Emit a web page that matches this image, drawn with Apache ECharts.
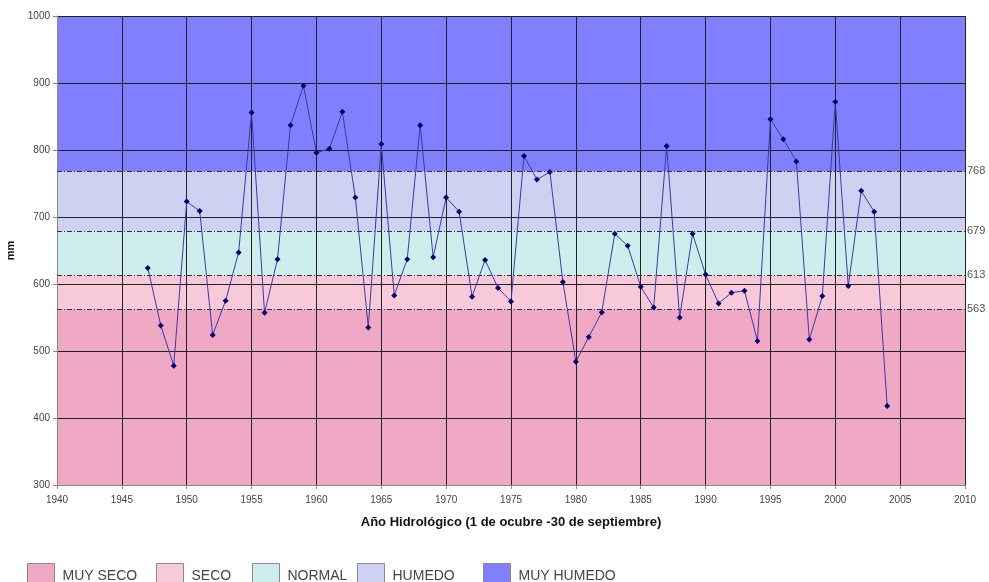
<!DOCTYPE html>
<html>
<head>
<meta charset="utf-8">
<script src="https://cdn.jsdelivr.net/npm/echarts@6/dist/echarts.min.js"></script>
<style>html,body{margin:0;padding:0;background:#fff;}#c{width:989px;height:582px;}</style>
</head>
<body>
<div id="c"></div>
<script>
const years = [1947,1948,1949,1950,1951,1952,1953,1954,1955,1956,1957,1958,1959,1960,1961,1962,1963,1964,1965,1966,1967,1968,1969,1970,1971,1972,1973,1974,1975,1976,1977,1978,1979,1980,1981,1982,1983,1984,1985,1986,1987,1988,1989,1990,1991,1992,1993,1994,1995,1996,1997,1998,1999,2000,2001,2002,2003,2004];
const rainfall = [624,538,478,723,709,524,575,647,856,557,637,837,896,796,802,857,729,535,809,583,637,837,640,729,708,581,636,594,574,791,756,767,603,484,521,558,675,657,596,565,806,550,675,614,571,587,590,515,846,816,783,517,582,872,597,739,708,418];
const bandNames = ['MUY SECO','SECO','NORMAL','HUMEDO','MUY HUMEDO'];
const thresholds = [563, 613, 679, 768];
const yMin = 300, yMax = 1000;
const xMin = 1940, xMax = 2010;
const bandColors = ['#f0a9c4','#f8c9d8','#cdeeec','#cdd1f2','#8080ff'];
const legendLeft = [22, 151, 247, 352, 478];

const edges = [yMin].concat(thresholds, [yMax]);
const series = [];
bandNames.forEach((n, i) => {
  series.push({
    name: n, type: 'line', data: [], z: 0, silent: true,
    itemStyle: { color: bandColors[i] },
    markArea: {
      silent: true, z: 0,
      itemStyle: { color: bandColors[i], opacity: 1 },
      data: [[{ yAxis: edges[i] }, { yAxis: edges[i + 1] }]]
    }
  });
});
series.push({
  name: 'Precipitación', type: 'line', z: 6,
  data: years.map((y, i) => [y, rainfall[i]]),
  symbol: 'diamond', symbolSize: 6,
  itemStyle: { color: '#000070' },
  lineStyle: { color: '#3a3aa8', width: 1 },
  markLine: {
    silent: true, symbol: 'none', z: 5,
    lineStyle: { color: '#333', width: 1, type: [5, 2, 1, 2] },
    label: { position: 'end', distance: 2, color: '#555', fontSize: 11, fontFamily: 'Liberation Sans, Arial', formatter: p => String(p.value) },
    data: thresholds.map(t => ({ yAxis: t }))
  }
});

const legends = bandNames.map((n, i) => ({
  left: legendLeft[i], top: 558, orient: 'horizontal',
  itemWidth: 27, itemHeight: 26, selectedMode: false,
  textStyle: { color: '#444', fontSize: 14, fontFamily: 'Liberation Sans, Arial', padding: [0, 0, 0, 3] },
  data: [{ name: n, icon: 'rect', itemStyle: { color: bandColors[i], borderColor: '#8a8a8a', borderWidth: 1 } }]
}));

const chart = echarts.init(document.getElementById('c'));
chart.setOption({
  animation: false,
  backgroundColor: '#fff',
  grid: { left: 57, right: 24, top: 16, bottom: 97, containLabel: false, outerBoundsMode: 'none' },
  legend: legends,
  xAxis: {
    type: 'value', min: xMin, max: xMax, interval: 5, z: 3,
    name: 'Año Hidrológico (1 de ocubre -30 de septiembre)',
    nameLocation: 'middle', nameGap: 31,
    nameTextStyle: { fontWeight: 'bold', fontSize: 13, color: '#111', fontFamily: 'Liberation Sans, Arial' },
    axisLine: { lineStyle: { color: '#888' } },
    axisTick: { show: true, length: 4, lineStyle: { color: '#888' } },
    axisLabel: { color: '#444', fontSize: 10, margin: 10, fontFamily: 'Liberation Sans, Arial', formatter: v => String(v) },
    splitLine: { show: true, lineStyle: { color: '#222', width: 1 } }
  },
  yAxis: {
    type: 'value', min: yMin, max: yMax, interval: 100, z: 3,
    name: 'mm', nameLocation: 'middle', nameGap: 38, nameRotate: 90,
    nameTextStyle: { fontWeight: 'bold', fontSize: 11, color: '#111', fontFamily: 'Liberation Sans, Arial' },
    axisLine: { show: true, lineStyle: { color: '#888' } },
    axisTick: { show: true, length: 4, lineStyle: { color: '#888' } },
    axisLabel: { color: '#444', fontSize: 10, margin: 7, fontFamily: 'Liberation Sans, Arial', formatter: v => String(v) },
    splitLine: { show: true, lineStyle: { color: '#222', width: 1 } }
  },
  series: series
});
</script>
</body>
</html>
